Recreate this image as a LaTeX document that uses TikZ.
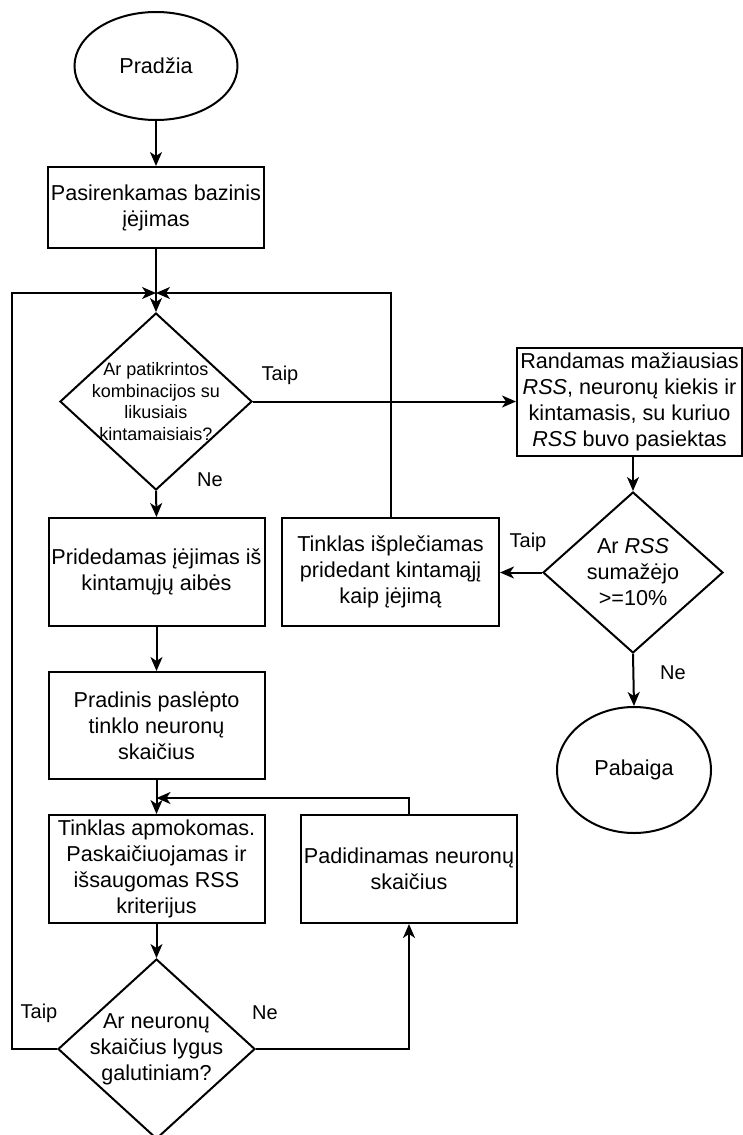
\documentclass[tikz,border=0pt]{standalone}
\usepackage{fontspec}
\setmainfont{Liberation Sans}
\usetikzlibrary{shapes.geometric,arrows.meta}

\begin{document}
\begin{tikzpicture}[x=1pt,y=-1pt,
  flow/.style={line width=2pt,-{Stealth[length=14pt,width=12pt,inset=4pt]}},
  txt/.style={font=\fontsize{21.6}{26}\selectfont},
  box/.style={draw,line width=2pt,rectangle,minimum width=216pt,inner sep=0pt,align=center,txt},
  oval/.style={draw,ellipse,line width=2pt,inner sep=0pt,txt},
  dec/.style={draw,diamond,line width=2pt,inner sep=0pt},
  dectext/.style={align=center,inner sep=0pt,txt},
  smalltext/.style={align=center,inner sep=0pt,font=\fontsize{18}{21.7}\selectfont},
  lbl/.style={inner sep=0pt,font=\fontsize{20}{24}\selectfont}]
\useasboundingbox (0,0) rectangle (743,1135);

% start and end
\node[oval,minimum width=163pt,minimum height=108pt] (start) at (156,66) {Pradžia};
\node[oval,minimum width=154pt,minimum height=126pt] (end) at (634,770) {Pabaiga};

% process boxes
\node[box,minimum height=81pt] (base) at (156,207.5) {Pasirenkamas bazinis\\įėjimas};
\node[box,minimum height=108pt] (add) at (156.5,572) {Pridedamas įėjimas iš\\kintamųjų aibės};
\node[box,minimum height=107pt] (init) at (156.5,725.5) {Pradinis paslėpto\\tinklo neuronų\\skaičius};
\node[box,minimum height=108pt] (train) at (156.5,869) {Tinklas apmokomas.\\Paskaičiuojamas ir\\išsaugomas RSS\\kriterijus};
\node[box,minimum height=108pt] (incr) at (409,869) {Padidinamas neuronų\\skaičius};
\node[box,minimum height=108pt,minimum width=217pt] (expand) at (390.5,572) {Tinklas išplečiamas\\pridedant kintamąjį\\kaip įėjimą};
\node[box,minimum height=108pt,minimum width=225pt] (best) at (629.5,402) {Randamas mažiausias\\\textit{RSS}, neuronų kiekis ir\\kintamasis, su kuriuo\\\textit{RSS} buvo pasiektas};

% decisions
\node[dec,minimum width=192pt,minimum height=177pt,
  label={[smalltext]center:{Ar patikrintos\\kombinacijos su\\likusiais\\kintamaisiais?}}] (d1) at (156,401.5) {};
\node[dec,minimum width=180pt,minimum height=161pt,
  label={[dectext]center:{Ar \textit{RSS}\\sumažėjo\\>=10\%}}] (d2) at (633,572.5) {};
\node[dec,minimum width=197pt,minimum height=180pt,
  label={[dectext]center:{Ar neuronų\\skaičius lygus\\galutiniam?}}] (d3) at (156.5,1049) {};

% junction points
\coordinate (m1) at (156,293);
\coordinate (m2) at (156.5,798);
\coordinate (lc) at (12,293);

% connectors
\draw[flow] (start) -- (base);
\draw[flow] (base.south) -- (d1.north);
\draw[flow] (d3.west) -| (lc) -- (m1);
\draw[flow] (expand.north) |- (m1);
\draw[flow] (d1.east) -- (d1.east -| best.west);
\draw[flow] (d2.north |- best.south) -- (d2.north);
\draw[flow] (d2.west) -- (d2.west -| expand.east);
\draw[flow] (d2.south) -- (end.north);
\draw[flow] (d1.south) -- (add.north);
\draw[flow] (add) -- (init);
\draw[flow] (init.south) -- (train.north);
\draw[flow] (incr.north) |- (m2);
\draw[flow] (train.south) -- (d3.north);
\draw[flow] (d3.east) -| (incr.south);

% branch labels
\node[lbl] (t1) at (280,375) {Taip};
\node[lbl] (n1) at (210,480) {Ne};
\node[lbl] (t2) at (528,542) {Taip};
\node[lbl] (n2) at (673,673) {Ne};
\node[lbl] (t3) at (39,1013) {Taip};
\node[lbl] (n3) at (265,1013) {Ne};
\end{tikzpicture}
\end{document}
